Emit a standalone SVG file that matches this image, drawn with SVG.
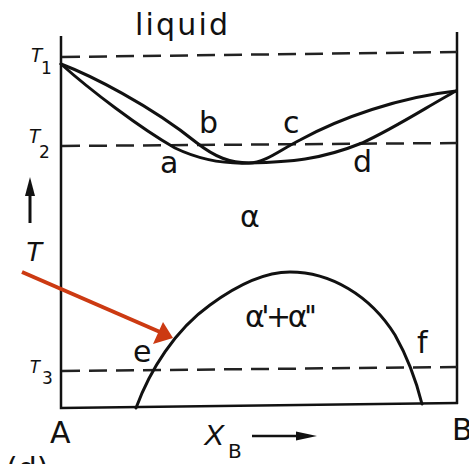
<svg xmlns="http://www.w3.org/2000/svg" width="469" height="464" viewBox="0 0 469 464">
<style>
.ax{stroke:#111;stroke-width:2.5;fill:none}
.cv{stroke:#111;stroke-width:3;fill:none;stroke-linecap:round}
.ds{stroke:#222;stroke-width:2.5;fill:none;stroke-dasharray:18 9}
.lb{font-family:"DejaVu Sans","Liberation Sans",sans-serif;font-size:30px;fill:#111}
.it{font-family:"Liberation Sans","DejaVu Sans",sans-serif;font-style:italic;fill:#111}
.sb{font-family:"DejaVu Sans","Liberation Sans",sans-serif;fill:#111}
</style>
<rect width="469" height="464" fill="#fff"/>
<g id="axes">
<path class="ax" d="M61,36 V408 L458,403"/>
<path class="ax" d="M457,32 V404"/>
</g>
<g id="isotherms">
<path class="ds" d="M62,57 L457,52"/>
<path class="ds" d="M62,146 L457,143"/>
<path class="ds" d="M62,371 L457,367"/>
</g>
<g id="curves">
<path class="cv" d="M61,64 C90,75 150,105 197,143 C215,157 230,163 249,163 C265,163 280,150 300,140 C340,118 400,97 456,91"/>
<path class="cv" d="M61,64 C90,90 140,128 175,148 C200,160 225,164 249,163 C290,162 320,160 362,143 C395,128 430,105 456,91"/>
<path class="cv" d="M136,408 C150,370 175,330 210,305 C240,283 265,272 290,272 C330,272 370,295 395,335 C408,358 416,380 422,404"/>
</g>
<g id="labels">
<text class="lb" x="135" y="35" textLength="93">liquid</text>
<text class="it" x="30" y="62" font-size="20">T</text><text class="sb" x="41" y="74" font-size="17">1</text>
<text class="it" x="28" y="143" font-size="20">T</text><text class="sb" x="39" y="158" font-size="17">2</text>
<text class="it" x="29" y="373" font-size="18">T</text><text class="sb" x="42" y="384" font-size="17">3</text>
<text class="it" x="25" y="261" font-size="28">T</text>
<text class="lb" x="199" y="133">b</text>
<text class="lb" x="160" y="173">a</text>
<text class="lb" x="283" y="133">c</text>
<text class="lb" x="353" y="172">d</text>
<text class="lb" x="240" y="227">α</text>
<text class="lb" x="245" y="327" font-size="26" textLength="72">α'+α''</text>
<text class="lb" x="133" y="362">e</text>
<text class="lb" x="417" y="353">f</text>
<text class="lb" x="50" y="443">A</text>
<text class="lb" x="452" y="440">B</text>
<text class="it" x="204" y="445" font-size="30">X</text><text class="sb" x="228" y="458" font-size="20">B</text>
<text class="lb" x="6" y="479">(d)</text>
</g>
<g id="arrows">
<path d="M30,223 V192" stroke="#111" stroke-width="3"/>
<polygon points="25,196 30,177 35,196" fill="#111"/>
<path d="M252,436 H300" stroke="#111" stroke-width="2.5"/>
<polygon points="296,431.5 317,436 296,440.5" fill="#111"/>
<path d="M22,272 L160,332" stroke="#cc3a12" stroke-width="4" fill="none"/>
<polygon points="173,338 163,322 153,344" fill="#cc3a12"/>
</g>
</svg>
